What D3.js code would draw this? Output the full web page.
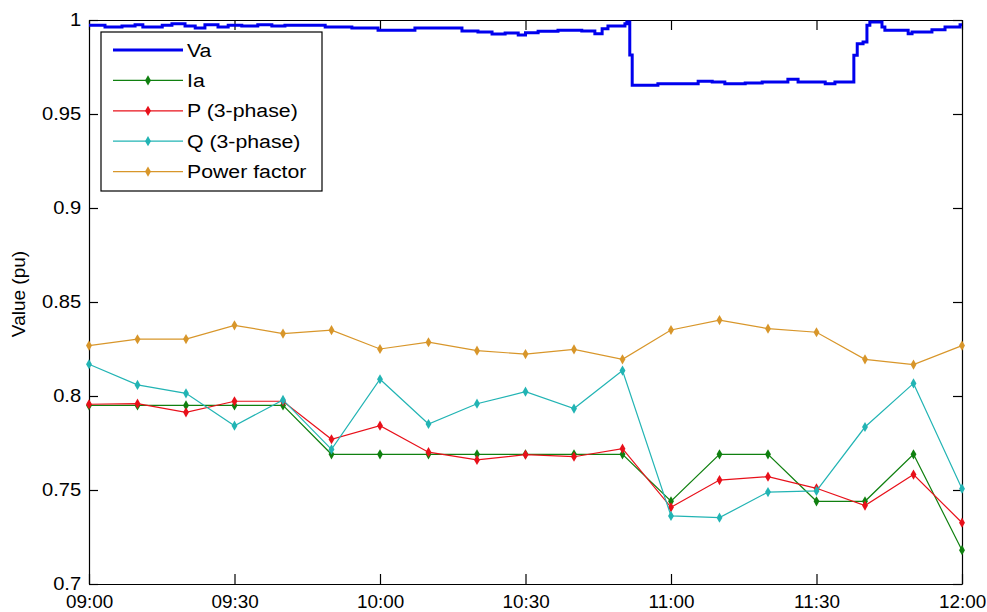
<!DOCTYPE html>
<html>
<head>
<meta charset="utf-8">
<script src="https://cdn.jsdelivr.net/npm/d3@7"></script>
<style>
  body { margin: 0; background: #fff; }
  text { font-family: "Liberation Sans", Arial, Helvetica, sans-serif; font-size: 19px; fill: #000; }
</style>
</head>
<body>
<div id="chart"></div>
<script>
// Chart size and plot area
const svgWidth = 987
const svgHeight = 612

let margin = { top: 20, right: 25, bottom: 28, left: 89 }
let width = svgWidth - margin.left - margin.right
let height = svgHeight - margin.top - margin.bottom

// 10-minute samples
const sampleTimes = ["09:00", "09:10", "09:20", "09:30", "09:40", "09:50", "10:00", "10:10", "10:20", "10:30",
  "10:40", "10:50", "11:00", "11:10", "11:20", "11:30", "11:40", "11:50", "12:00"]
const iaValues = [0.795, 0.795, 0.795, 0.795, 0.795, 0.769, 0.769, 0.769, 0.769, 0.769,
  0.769, 0.769, 0.744, 0.769, 0.769, 0.744, 0.744, 0.769, 0.718]
const pValues = [0.7956, 0.7959, 0.7913, 0.7972, 0.7972, 0.777, 0.7842, 0.7701, 0.766, 0.7688,
  0.7677, 0.772, 0.7408, 0.7553, 0.7571, 0.7509, 0.7417, 0.7582, 0.7326]
const qValues = [0.8169, 0.8059, 0.8014, 0.7842, 0.7979, 0.7716, 0.8089, 0.7851, 0.7959, 0.8023,
  0.7933, 0.8135, 0.7362, 0.7353, 0.7489, 0.7495, 0.7835, 0.8067, 0.7507]
const pfValues = [0.8268, 0.8302, 0.8303, 0.8376, 0.8332, 0.835, 0.825, 0.8286, 0.8241, 0.8223,
  0.8248, 0.8195, 0.8351, 0.8404, 0.8358, 0.8339, 0.8195, 0.8167, 0.8268]

// Va measured continuously: minutes after 09:00 and value
const vaMinutes = [0, 3.3, 6.8, 9.5, 11.1, 15.1, 17.1, 19.8, 21.9, 23.9, 26.6, 28.7, 31.5, 34.8, 37.7, 40.4,
  45.6, 48.7, 54.2, 59.6, 67.2, 76.9, 80.2, 83.1, 85.8, 88.5, 90, 92.6, 96.7, 101.6, 104.3, 105.8, 107,
  110.5, 110.9, 111.5, 112, 117.3, 125.6, 128.5, 131.1, 135.3, 138.8, 144.1, 146.2, 151.8, 153.8, 157.3,
  157.7, 158.4, 159.6, 160.4, 161, 162.7, 163.5, 164.1, 168.2, 168.9, 169.7, 173.8, 176.5, 179.6, 180]
const vaValues = [0.9972, 0.9963, 0.9968, 0.9975, 0.9963, 0.9972, 0.998, 0.9968, 0.9957, 0.9975, 0.9963,
  0.9972, 0.9968, 0.9975, 0.9968, 0.9972, 0.9972, 0.9963, 0.9957, 0.9945, 0.9957, 0.9941, 0.9936, 0.9926,
  0.9931, 0.992, 0.9932, 0.994, 0.9945, 0.9941, 0.9927, 0.9954, 0.9968, 0.998, 0.9989, 0.9814, 0.9653,
  0.9661, 0.9674, 0.967, 0.9661, 0.9665, 0.967, 0.9685, 0.967, 0.9661, 0.967, 0.967, 0.9812, 0.9874,
  0.9883, 0.9972, 0.9989, 0.9989, 0.9963, 0.9945, 0.9945, 0.9927, 0.9936, 0.9948, 0.9963, 0.9975, 0.9975]

const yTicks = [0.7, 0.75, 0.8, 0.85, 0.9, 0.95, 1]
const yTickLabels = ["0.7", "0.75", "0.8", "0.85", "0.9", "0.95", "1"]
const xTickLabels = ["09:00", "09:30", "10:00", "10:30", "11:00", "11:30", "12:00"]

const seriesNames = ["Va", "Ia", "P (3-phase)", "Q (3-phase)", "Power factor"]
const seriesColors = ["#0000ee", "#108010", "#e8101a", "#22b4b4", "#d8962a"]

const parseTime = d3.timeParse("%H:%M")
const day0 = parseTime("09:00")

let svg = d3.select("#chart").append("svg")
  .attr("width", svgWidth)
  .attr("height", svgHeight)

let chartGroup = svg.append("g")
  .attr("transform", `translate(${margin.left}, ${margin.top})`)

let xScale = d3.scaleTime()
  .domain([parseTime("09:00"), parseTime("12:00")])
  .range([0, width])

let yScale = d3.scaleLinear()
  .domain([0.7, 1])
  .range([height, 0])

// slightly wider text, like the stretched original
const stretch = "scale(1.12,1)"

// axes on all four sides, ticks pointing inward
let xTickDates = xTickLabels.map(parseTime)

chartGroup.append("g")
  .attr("transform", `translate(0, ${height})`)
  .call(d3.axisBottom(xScale).tickValues(xTickDates).tickFormat(d3.timeFormat("%H:%M"))
    .tickSizeInner(-10).tickSizeOuter(0).tickPadding(11))
  .call(g => g.selectAll("text").attr("transform", "scale(1.05,1)"))

chartGroup.append("g")
  .call(d3.axisTop(xScale).tickValues(xTickDates).tickFormat("")
    .tickSizeInner(-10).tickSizeOuter(0))

chartGroup.append("g")
  .call(d3.axisLeft(yScale).tickValues(yTicks).tickFormat((d, i) => yTickLabels[i])
    .tickSizeInner(-9).tickSizeOuter(0).tickPadding(7))
  .call(g => g.selectAll("text").attr("transform", stretch))

chartGroup.append("g")
  .attr("transform", `translate(${width}, 0)`)
  .call(d3.axisRight(yScale).tickValues(yTicks).tickFormat("")
    .tickSizeInner(-9).tickSizeOuter(0))

chartGroup.selectAll(".domain, .tick line").attr("stroke", "#000").attr("stroke-width", 1.2)
chartGroup.selectAll(".tick text").style("font-size", "18px")

// y label
svg.append("text")
  .attr("transform", `translate(25, ${margin.top + height / 2 - 8}) rotate(-90)`)
  .attr("text-anchor", "middle")
  .text("Value (pu)")

svg.append("clipPath").attr("id", "plotclip")
  .append("rect").attr("width", width).attr("height", height)

let lineGen = d3.line()
  .x(d => xScale(d.t))
  .y(d => yScale(d.v))

// Va
let vaData = vaMinutes.map((m, i) => ({ t: new Date(day0.getTime() + m * 60000), v: vaValues[i] }))

chartGroup.append("path")
  .datum(vaData)
  .attr("clip-path", "url(#plotclip)")
  .attr("fill", "none")
  .attr("stroke", seriesColors[0])
  .attr("stroke-width", 3)
  .attr("d", lineGen.curve(d3.curveStepAfter))

lineGen.curve(d3.curveLinear)

// sampled series
let sampled = [iaValues, pValues, qValues, pfValues]
let diamond = d3.symbol().type(d3.symbolDiamond).size(30)

sampled.forEach((vals, k) => {
  let data = vals.map((v, i) => ({ t: parseTime(sampleTimes[i]), v: v }))
  let color = seriesColors[k + 1]
  chartGroup.append("path")
    .datum(data)
    .attr("fill", "none")
    .attr("stroke", color)
    .attr("stroke-width", 1.2)
    .attr("d", lineGen)
  chartGroup.selectAll(null)
    .data(data)
    .enter()
    .append("path")
    .attr("d", diamond)
    .attr("transform", d => `translate(${xScale(d.t)}, ${yScale(d.v)})`)
    .attr("fill", color)
})

// legend
let legend = svg.append("g").attr("transform", "translate(101, 32)")

legend.append("rect")
  .attr("width", 221)
  .attr("height", 159)
  .attr("fill", "#fff")
  .attr("stroke", "#000")
  .attr("stroke-width", 1.2)

seriesNames.forEach((name, i) => {
  let y = 18 + i * 30.4
  legend.append("line")
    .attr("x1", 12).attr("x2", 82)
    .attr("y1", y).attr("y2", y)
    .attr("stroke", seriesColors[i])
    .attr("stroke-width", i === 0 ? 3 : 1.2)
  if (i > 0) {
    legend.append("path")
      .attr("d", diamond)
      .attr("transform", `translate(47, ${y})`)
      .attr("fill", seriesColors[i])
  }
  legend.append("text")
    .attr("transform", `translate(86, ${y}) ${stretch}`)
    .attr("dy", "0.35em")
    .text(name)
})
</script>
</body>
</html>
